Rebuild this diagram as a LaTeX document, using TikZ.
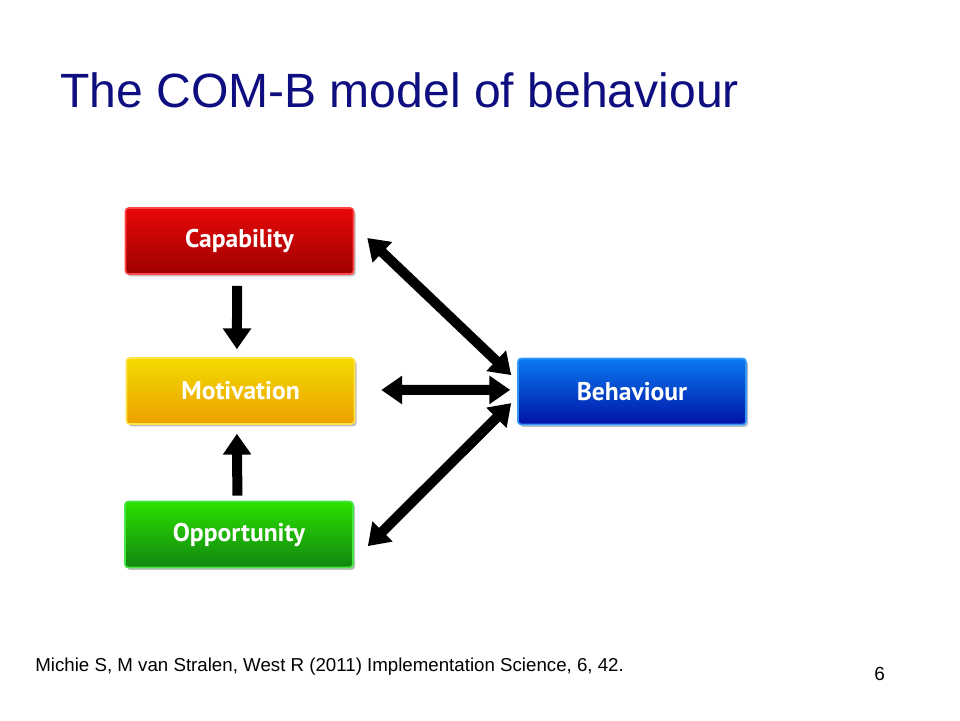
\documentclass[tikz,border=0pt]{standalone}
\usepackage{fontspec}
\setmainfont{Liberation Sans}
\newfontfamily\boxfont{PT Sans}
\usepackage{xcolor}
\usepackage{tikz}
\usetikzlibrary{calc}
\usetikzlibrary{arrows.meta}
\usetikzlibrary{shadows}

\definecolor{titleblue}{RGB}{14,14,128}
\definecolor{capTop}{RGB}{232,8,8}
\definecolor{capBot}{RGB}{158,0,0}
\definecolor{capRim}{RGB}{255,70,70}
\definecolor{motTop}{RGB}{244,218,0}
\definecolor{motBot}{RGB}{234,160,0}
\definecolor{motRim}{RGB}{255,226,70}
\definecolor{oppTop}{RGB}{44,224,0}
\definecolor{oppBot}{RGB}{16,134,16}
\definecolor{oppRim}{RGB}{70,230,70}
\definecolor{behTop}{RGB}{10,122,240}
\definecolor{behBot}{RGB}{0,18,166}
\definecolor{behRim}{RGB}{50,150,255}

\tikzset{
  factor/.style n args={3}{rectangle, rounded corners=0.08cm,
    minimum width=5.7cm, minimum height=1.65cm,
    top color=#1, bottom color=#2, draw=#3, line width=0.04cm,
    drop shadow={opacity=0.5, shadow xshift=0.05cm, shadow yshift=-0.06cm},
    text=white, font=\boxfont\bfseries\fontsize{18.2}{20}\selectfont},
  onearrow/.style={line width=0.25cm, -{Triangle[width=0.68cm,length=0.52cm]}},
  twoarrow/.style={line width=0.25cm, {Triangle[width=0.68cm,length=0.52cm]}-{Triangle[width=0.68cm,length=0.52cm]}}
}

\begin{document}
\begin{tikzpicture}
        \useasboundingbox (0.000000,0.000000) rectangle (24.000000,18.000000);

        % Title
        \node [anchor=base west, text=titleblue, font=\fontsize{34.2}{40}\selectfont] (title) at (1.380000,15.300000) {The COM-B model of behaviour};

        % Drawing the four boxes
        \node [factor={capTop}{capBot}{capRim}] (cap) at (5.987500,11.975000) {Capability};
        \node [factor={motTop}{motBot}{motRim}] (mot) at (6.012500,8.225000) {Motivation};
        \node [factor={oppTop}{oppBot}{oppRim}] (opp) at (5.975000,4.637500) {Opportunity};
        \node [factor={behTop}{behBot}{behRim}] (beh) at (15.800000,8.212500) {Behaviour};

        % Drawing arrows into motivation
        \draw [onearrow] ([xshift=-0.060000cm,yshift=-0.275000cm]cap.south) -- ([xshift=-0.090000cm,yshift=0.200000cm]mot.north);
        \draw [onearrow] ([xshift=-0.040000cm,yshift=0.125000cm]opp.north) -- ([xshift=-0.090000cm,yshift=-0.225000cm]mot.south);

        % Drawing arrows to and from behaviour
        \draw [twoarrow] ([xshift=0.325000cm,yshift=0.075000cm]cap.east) -- ([xshift=-0.150000cm,yshift=0.410000cm]beh.west);
        \draw [twoarrow] ([xshift=0.650000cm,yshift=0.025000cm]mot.east) -- ([xshift=-0.175000cm,yshift=0.040000cm]beh.west);
        \draw [twoarrow] ([xshift=0.350000cm,yshift=-0.290000cm]opp.east) -- ([xshift=-0.150000cm,yshift=-0.290000cm]beh.west);

        % Reference and page number
        \node [anchor=base west, font=\fontsize{13.3}{15}\selectfont] (ref) at (0.760000,1.225000) {Michie S, M van Stralen, West R (2011) Implementation Science, 6, 42.};
        \node [anchor=base east, font=\fontsize{13.5}{15}\selectfont] (page) at (22.250000,1.000000) {6};
\end{tikzpicture}
\end{document}
